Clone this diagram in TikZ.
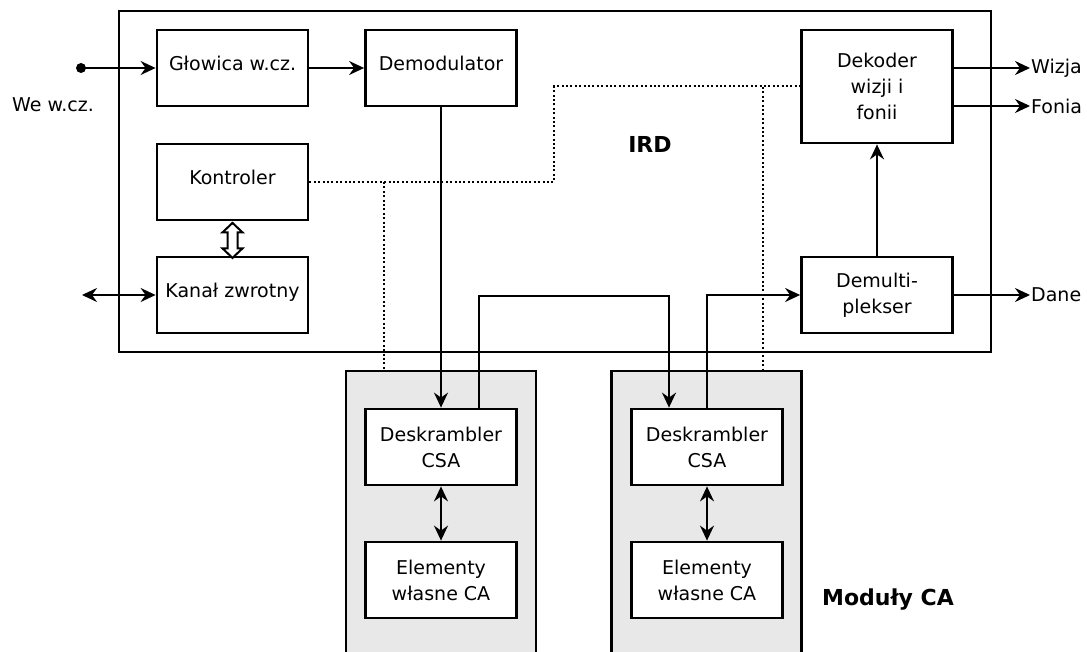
\documentclass[tikz,border=0pt]{standalone}
\usepackage{fontspec}
\setmainfont{DejaVu Sans}
\usetikzlibrary{arrows.meta,calc}
\begin{document}
\begin{tikzpicture}[x=1pt,y=-1pt,
  txt/.style={font=\fontsize{19}{26}\selectfont},
  box/.style={txt,draw,line width=2.8pt,fill=white,minimum width=151pt,minimum height=76pt,inner sep=0pt},
  one/.style={box,text height=14pt,text depth=9pt},
  two/.style={box,align=center},
  module/.style={draw,line width=2.6pt,fill=black!9,minimum width=190pt,minimum height=300pt,inner sep=0pt},
  conn/.style={line width=2pt},
  tip/.tip={Stealth[length=15pt,width=14pt,inset=5pt]},
  arr/.style={conn,-tip},
  darr/.style={conn,tip-tip},
  dots/.style={line width=2pt,dash pattern=on 2pt off 2.4pt},
  lab/.style={txt,inner sep=1pt},
  big/.style={font=\fontsize{22}{26}\selectfont\bfseries,inner sep=0pt}
]
\path[use as bounding box,clip] (0,0) rectangle (1087,652);
% CA modules
\node[module] (mod1) at (441,521) {};
\node[module] (mod2) at (706.5,521) {};
% IRD frame
\node[draw,line width=2.8pt,minimum width=872pt,minimum height=341pt,inner sep=0pt] (ird) at (555,181.5) {};
% blocks
\node[one] (glow) at (232.5,68) {Głowica w.cz.};
\node[one] (demod) at (441,68) {Demodulator};
\node[one] (kont) at (232.5,182) {Kontroler};
\node[one] (kanal) at (232.5,295) {Kanał zwrotny};
\node[two,minimum height=113pt] (dek) at (877,86.5) {Dekoder\\wizji i\\fonii};
\node[two] (demux) at (877,295) {Demulti-\\plekser};
\node[two] (desk1) at (441,447) {Deskrambler\\CSA};
\node[two] (elem1) at (441,580) {Elementy\\własne CA};
\node[two] (desk2) at (707,447) {Deskrambler\\CSA};
\node[two] (elem2) at (707,580) {Elementy\\własne CA};
% labels
\node[big] (irdl) at (650,144) {IRD};
\node[big] (modl) at (888,600) {Moduły CA};
\node[lab] (wel) at (53,105) {We w.cz.};
% input
\node[circle,fill,inner sep=0pt,minimum size=10pt] (in) at (81,68) {};
\draw[arr] (in.center) -- (glow.west);
\draw[arr] (glow.east) -- (demod.west);
\draw[arr] (demod.south) -- (desk1.north);
% return channel
\coordinate (kz) at (82,295);
\draw[darr] (kz) -- (kanal.west);
% hollow double arrow
\begin{scope}[shift={(kont.south)}]
\draw[line width=2pt,fill=white] (0,1.5) -- (10,11) -- (5,11) -- (5,27) -- (10,27) -- (0,36.5) -- (-10,27) -- (-5,27) -- (-5,11) -- (-10,11) -- cycle;
\end{scope}
% chain through modules
\draw[arr] ($(desk1.north)+(38,0)$) |- (588,296) -| ($(desk2.north)+(-38,0)$);
\draw[arr] (desk2.north) |- (demux.west);
\draw[arr] (demux.north) -- (dek.south);
\draw[darr] (desk1.south) -- (elem1.north);
\draw[darr] (desk2.south) -- (elem2.north);
% outputs
\coordinate (wz) at (1030,68);
\coordinate (fo) at (1030,106);
\coordinate (da) at (1030,295);
\draw[arr] (dek.east |- wz) -- (wz);
\draw[arr] (dek.east |- fo) -- (fo);
\draw[arr] (demux.east) -- (da);
\node[lab,anchor=west] at (wz) {Wizja};
\node[lab,anchor=west] at (fo) {Fonia};
\node[lab,anchor=west] at (da) {Dane};
% control (dotted)
\coordinate (b1) at (554,182);
\coordinate (t1) at (384,182);
\coordinate (t2) at (763,87);
\draw[dots] (kont.east) -- (b1) |- (dek.west);
\draw[dots] (t1) -- (t1 |- mod1.north);
\draw[dots] (t2) -- (t2 |- mod2.north);
\end{tikzpicture}
\end{document}
